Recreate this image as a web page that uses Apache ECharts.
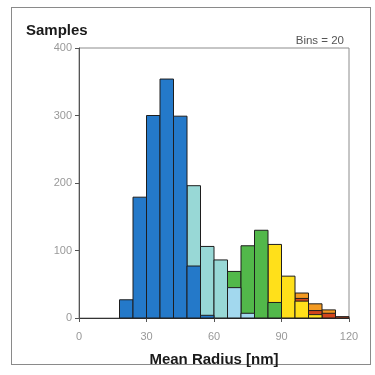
<!DOCTYPE html>
<html>
<head>
<meta charset="utf-8">
<script src="https://cdn.jsdelivr.net/npm/echarts@6/dist/echarts.min.js"></script>
<style>
html,body{margin:0;padding:0;background:#fff;}
#frame{position:absolute;left:11px;top:7px;width:360px;height:358px;border:1px solid #8a8a8a;box-sizing:border-box;}
#chart{position:absolute;left:0;top:0;width:375px;height:375px;}
</style>
</head>
<body>
<div id="frame"></div>
<div id="chart"></div>
<script>
// Bin starts (nm), bin width 6 nm (20 bins over 0..120)
const binStarts = [18, 24, 30, 36, 42, 48, 54, 60, 66, 72, 78, 84, 90, 96, 102, 108, 114];
const binWidth = 6;
const darkBlue  = [27, 179, 300, 354, 299, 77, 4, 0, 0, 0, 0, 0, 0, 0, 0, 0, 0];
const cyan      = [0, 0, 0, 0, 0, 196, 106, 86, 0, 0, 0, 0, 0, 0, 0, 0, 0];
const lightBlue = [0, 0, 0, 0, 0, 0, 0, 0, 45, 7, 0, 0, 0, 0, 0, 0, 0];
const green     = [0, 0, 0, 0, 0, 0, 0, 0, 69, 107, 130, 23, 0, 0, 0, 0, 0];
const yellow    = [0, 0, 0, 0, 0, 0, 0, 0, 0, 0, 0, 109, 62, 25, 5, 0, 0];
const red       = [0, 0, 0, 0, 0, 0, 0, 0, 0, 0, 0, 0, 0, 29, 11, 7, 2];
const orange    = [0, 0, 0, 0, 0, 0, 0, 0, 0, 0, 0, 0, 0, 37, 21, 12, 0];
const yTicks = [0, 100, 200, 300, 400];
const xTicks = [0, 30, 60, 90, 120];

function toData(vals){
  const out = [];
  vals.forEach((v,i)=>{ if(v>0) out.push([binStarts[i], binStarts[i]+binWidth, v]); });
  return out;
}
function mkSeries(name, vals, color){
  return {
    type:'custom', name:name,
    data: toData(vals),
    encode:{x:[0,1], y:2},
    renderItem:function(params, api){
      const p0 = api.coord([api.value(0), api.value(2)]);
      const p1 = api.coord([api.value(1), 0]);
      return {type:'rect',
        shape:{x:p0[0], y:p0[1], width:p1[0]-p0[0], height:p1[1]-p0[1]},
        style:{fill:color, stroke:'#1e1e1e', lineWidth:1}};
    }
  };
}

const chart = echarts.init(document.getElementById('chart'), null, {renderer:'canvas'});
chart.setOption({
  animation:false,
  grid:{left:79, right:26, top:48, bottom:57, show:true, borderColor:'#8c8c8c', borderWidth:1, backgroundColor:'transparent'},
  title:[
    {text:'Samples', left:21, top:18, textStyle:{fontFamily:'Liberation Sans, Arial', fontSize:15, fontWeight:'bold', color:'#1a1a1a'}},
    {text:'Bins = 20', right:26, top:30, textStyle:{fontFamily:'Liberation Sans, Arial', fontSize:11.5, fontWeight:'normal', color:'#555'}}
  ],
  xAxis:{
    type:'value', min:xTicks[0], max:xTicks[xTicks.length-1], interval:30,
    name:'Mean Radius [nm]', nameLocation:'middle', nameGap:34,
    nameTextStyle:{fontFamily:'Liberation Sans, Arial', fontSize:15, fontWeight:'bold', color:'#1a1a1a'},
    axisLine:{show:true, onZero:false, lineStyle:{color:'#333', width:1}},
    axisTick:{show:true, inside:false, length:4, lineStyle:{color:'#555'}},
    axisLabel:{margin:13, fontFamily:'Liberation Sans, Arial', fontSize:11, color:'#999'},
    splitLine:{show:false}
  },
  yAxis:{
    type:'value', min:yTicks[0], max:yTicks[yTicks.length-1], interval:100,
    axisLine:{show:true, onZero:false, lineStyle:{color:'#555', width:1}},
    axisTick:{show:true, inside:false, length:4, lineStyle:{color:'#555'}},
    axisLabel:{margin:7, fontFamily:'Liberation Sans, Arial', fontSize:11, color:'#999'},
    splitLine:{show:false}
  },
  series:[
    mkSeries('orange', orange, '#f39a22'),
    mkSeries('red', red, '#d2461c'),
    mkSeries('yellow', yellow, '#ffe01a'),
    mkSeries('green', green, '#52b84a'),
    mkSeries('cyan', cyan, '#98d8d6'),
    mkSeries('lightBlue', lightBlue, '#a2d8ee'),
    mkSeries('darkBlue', darkBlue, '#2479c9')
  ]
});
</script>
</body>
</html>
